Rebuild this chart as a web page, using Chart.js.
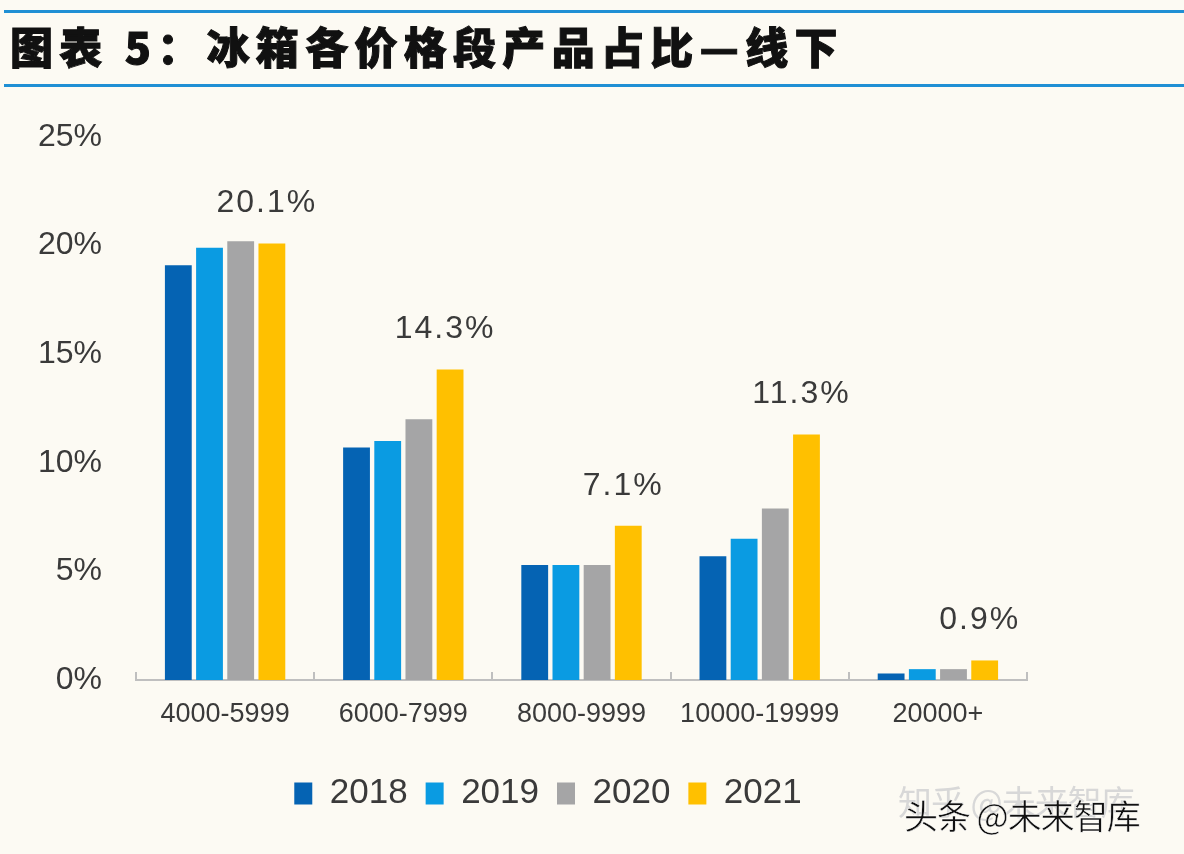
<!DOCTYPE html>
<html>
<head>
<meta charset="utf-8">
<script src="https://cdn.jsdelivr.net/npm/chart.js@4.4.1/dist/chart.umd.min.js"></script>
<style>
  html, body { margin:0; padding:0; background:#fcfaf3; }
  #wrap { position:relative; width:1184px; height:854px; overflow:hidden; }
  #chart { position:absolute; left:0; top:0; }
  .rule { position:absolute; left:4px; right:0; height:3px; background:#1f8fd4; }
  #title { position:absolute; left:10px; top:14px; font-family:"Noto Sans CJK SC"; font-weight:900;
           font-size:43px; letter-spacing:6.3px; color:#111; white-space:nowrap;
           -webkit-text-stroke:1px #111; }
  .wm { position:absolute; font-family:"Noto Sans CJK SC"; font-size:34px; white-space:nowrap; letter-spacing:-1px; }
</style>
</head>
<body>
<div id="wrap">
  <canvas id="chart" width="1184" height="854"></canvas>
  <div class="rule" style="top:10px"></div>
  <div class="rule" style="top:84px"></div>
  <div id="title">图表 5：冰箱各价格段产品占比—线下</div>
  <div class="wm" style="left:898px;top:776px;color:#d8d8d8">知乎 @未来智库</div>
  <div class="wm" style="left:904px;top:790px;color:#111;-webkit-text-stroke:0.5px #fff">头条 @未来智库</div>
</div>
<script>
const categories = ['4000-5999', '6000-7999', '8000-9999', '10000-19999', '20000+'];
const years = ['2018', '2019', '2020', '2021'];
const share2018 = [19.1, 10.7, 5.3, 5.7, 0.3];
const share2019 = [19.9, 11.0, 5.3, 6.5, 0.5];
const share2020 = [20.2, 12.0, 5.3, 7.9, 0.5];
const share2021 = [20.1, 14.3, 7.1, 11.3, 0.9];
const colors = ['#0563b3', '#0a9be2', '#a5a5a6', '#ffc000'];
const labelled = 3; // only 2021 bars carry a value label

const series = [share2018, share2019, share2020, share2021];

// value labels above the 2021 bars
const valueLabels = {
  id: 'valueLabels',
  afterDatasetsDraw(chart){
    const ctx = chart.ctx;
    const meta = chart.getDatasetMeta(labelled);
    ctx.save();
    ctx.font = '32px "Liberation Sans"';
    ctx.letterSpacing = '2px';
    ctx.fillStyle = '#3a3a3a';
    ctx.textAlign = 'center';
    ctx.textBaseline = 'middle';
    meta.data.forEach((bar, i) => {
      ctx.fillText(series[labelled][i].toFixed(1) + '%', bar.x - 5, bar.y - 40);
    });
    ctx.restore();
  }
};

// small upward tick marks at the category boundaries
const boundaryTicks = {
  id: 'boundaryTicks',
  afterDraw(chart){
    const x = chart.scales.x, ctx = chart.ctx;
    const bottom = chart.chartArea.bottom;
    const step = x.getPixelForValue(1) - x.getPixelForValue(0);
    ctx.save();
    ctx.strokeStyle = '#bfbfbf';
    ctx.lineWidth = 2;
    for(let i = 0; i <= categories.length; i++){
      const px = Math.round(x.getPixelForValue(0) - step/2 + i*step);
      ctx.beginPath();
      ctx.moveTo(px, bottom);
      ctx.lineTo(px, bottom - 8);
      ctx.stroke();
    }
    ctx.restore();
  }
};

new Chart(document.getElementById('chart'), {
  type: 'bar',
  data: {
    labels: categories,
    datasets: years.map((y, i) => ({
      label: y,
      data: series[i],
      backgroundColor: colors[i],
      borderWidth: 0,
      categoryPercentage: 0.7,
      barPercentage: 0.86
    }))
  },
  options: {
    responsive: false,
    animation: false,
    layout: { padding: { left: 0, right: 88, top: 137, bottom: 33 } },
    plugins: {
      tooltip: { enabled: false },
      legend: {
        position: 'bottom',
        align: 'center',
        labels: {
          color: '#3a3a3a',
          font: { family: 'Liberation Sans', size: 35 },
          boxWidth: 18,
          boxHeight: 22,
          padding: 18
        }
      }
    },
    scales: {
      x: {
        grid: { display: false, drawTicks: false },
        border: { color: '#bfbfbf', width: 2 },
        ticks: { color: '#3a3a3a', font: { family: 'Liberation Sans', size: 27 }, padding: 18 },
        afterFit(scale){ scale.height = 78; }
      },
      y: {
        min: 0, max: 25,
        ticks: {
          stepSize: 5,
          color: '#3a3a3a',
          font: { family: 'Liberation Sans', size: 32 },
          padding: 34,
          callback: v => v + '%'
        },
        grid: { display: false, drawTicks: false },
        border: { display: false },
        afterFit(scale){ scale.width = 136; }
      },
      // empty right-hand axis, only reserves space so the legend centres like the original
      yRight: {
        position: 'right',
        display: true,
        ticks: { display: false },
        grid: { display: false, drawTicks: false },
        border: { display: false },
        afterFit(scale){ scale.width = 69; }
      }
    }
  },
  plugins: [valueLabels, boundaryTicks]
});
</script>
</body>
</html>
